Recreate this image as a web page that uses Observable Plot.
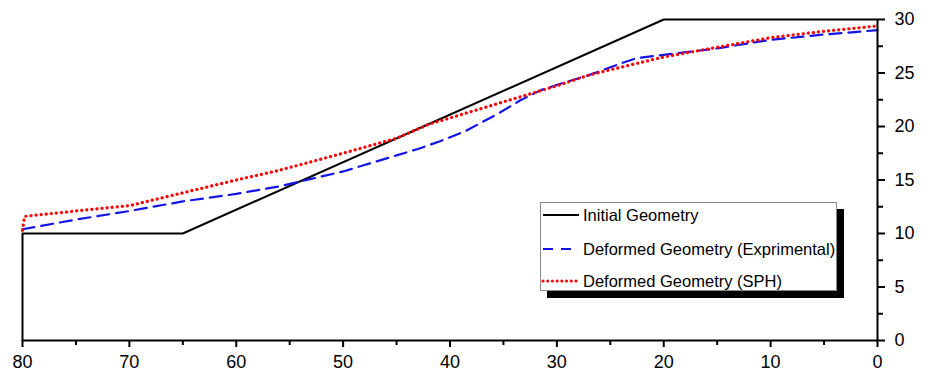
<!DOCTYPE html>
<html>
<head>
<meta charset="utf-8">
<script src="https://cdn.jsdelivr.net/npm/d3@7"></script>
<script src="https://cdn.jsdelivr.net/npm/@observablehq/plot@0.6"></script>
<style>
  html, body { margin: 0; padding: 0; background: #fff; }
  #wrap { position: relative; width: 932px; height: 375px; font-family: "Liberation Sans", Arial, sans-serif; }
  #legend { position: absolute; left: 540px; top: 202px; width: 295px; height: 87px;
            background: #fff; border: 1px solid #8a8a8a; box-shadow: 7px 7px 0 #000; }
  #legend svg { position: absolute; left: 0; top: 0; }
</style>
</head>
<body>
<div id="wrap"></div>
<script>
// Initial geometry (polyline of the slope profile)
const initX = [80, 80, 65, 20, 0];
const initY = [0, 10, 10, 30, 30];

// Deformed geometry (experimental)
const expX = [80, 75, 70, 65, 60, 56, 53, 50, 48, 45, 43, 41, 38.5, 35.5, 33.5, 31.5, 29, 27, 24, 22.5, 20, 15, 10, 5, 0];
const expY = [10.4, 11.3, 12.1, 13.0, 13.7, 14.4, 15.1, 15.8, 16.4, 17.3, 17.9, 18.6, 19.6, 21.2, 22.4, 23.4, 24.2, 24.8, 25.9, 26.4, 26.7, 27.3, 28.1, 28.6, 29.0];

// Deformed geometry (SPH)
const sphX = [80, 79.8, 75, 70, 65, 60, 56, 50, 45, 42, 36, 30, 27, 25, 20, 15, 10, 5, 0];
const sphY = [10.3, 11.6, 12.1, 12.6, 13.8, 15.0, 15.9, 17.5, 18.9, 20.2, 22.0, 23.8, 24.8, 25.3, 26.5, 27.4, 28.3, 28.9, 29.4];

const xMajor = [80, 70, 60, 50, 40, 30, 20, 10, 0];
const xMinor = [75, 65, 55, 45, 35, 25, 15, 5];
const yMajor = [0, 5, 10, 15, 20, 25, 30];
const yMinor = [2.5, 7.5, 12.5, 17.5, 22.5, 27.5];

const seriesNames = ["Initial Geometry", "Deformed Geometry (Exprimental)", "Deformed Geometry (SPH)"];

const init = initX.map((x, i) => ({x, y: initY[i]}));
const exp = expX.map((x, i) => ({x, y: expY[i]}));
const sph = sphX.map((x, i) => ({x, y: sphY[i]}));

const chart = Plot.plot({
  width: 932,
  height: 375,
  marginLeft: 22,
  marginRight: 55,
  marginTop: 19,
  marginBottom: 35,
  style: {fontFamily: "'Liberation Sans', Arial, sans-serif", background: "#fff", overflow: "visible"},
  x: {domain: [80, 0]},
  y: {domain: [0, 30]},
  marks: [
    Plot.line(init, {x: "x", y: "y", stroke: "#000", strokeWidth: 2}),
    Plot.line(exp, {x: "x", y: "y", stroke: "#1414e6", strokeWidth: 2.2, strokeDasharray: "12 7"}),
    Plot.line(sph, {x: "x", y: "y", stroke: "#ff0000", strokeWidth: 3.2, strokeDasharray: "0.1 5", strokeLinecap: "round"}),
    Plot.ruleY([0], {stroke: "#000", strokeWidth: 2}),
    Plot.ruleX([0], {stroke: "#000", strokeWidth: 2}),
    Plot.axisX(xMajor, {anchor: "bottom", tickSize: 7, tickPadding: 8, fontSize: 18, fill: "#000", stroke: "#000", strokeWidth: 2, tickFormat: d => String(d), label: null}),
    Plot.axisX(xMinor, {anchor: "bottom", tickSize: 5, stroke: "#000", strokeWidth: 2, tickFormat: null, text: null, label: null}),
    Plot.axisY(yMajor, {anchor: "right", tickSize: 7, tickPadding: 10, fontSize: 18, fill: "#000", stroke: "#000", strokeWidth: 2, tickFormat: d => String(d), label: null}),
    Plot.axisY(yMinor, {anchor: "right", tickSize: 5, stroke: "#000", strokeWidth: 2, tickFormat: null, text: null, label: null})
  ]
});

const wrap = document.getElementById("wrap");
wrap.appendChild(chart);

// Legend overlay
const legend = document.createElement("div");
legend.id = "legend";
const rowsY = [12, 46, 78];
const styles = [
  {stroke: "#000", width: 2, dash: null, cap: "butt"},
  {stroke: "#1414e6", width: 2.2, dash: "10 8", cap: "butt"},
  {stroke: "#ff0000", width: 3, dash: "0.1 4.6", cap: "round"}
];
let svg = `<svg width="295" height="87" xmlns="http://www.w3.org/2000/svg" style="font-family:'Liberation Sans', Arial, sans-serif">`;
seriesNames.forEach((name, i) => {
  const s = styles[i];
  svg += `<line x1="2" x2="38" y1="${rowsY[i]}" y2="${rowsY[i]}" stroke="${s.stroke}" stroke-width="${s.width}" ${s.dash ? `stroke-dasharray="${s.dash}"` : ""} stroke-linecap="${s.cap}"/>`;
  svg += `<text x="42" y="${rowsY[i]}" dy="0.35em" font-size="16.5" fill="#000">${name}</text>`;
});
svg += `</svg>`;
legend.innerHTML = svg;
wrap.appendChild(legend);
</script>
</body>
</html>
